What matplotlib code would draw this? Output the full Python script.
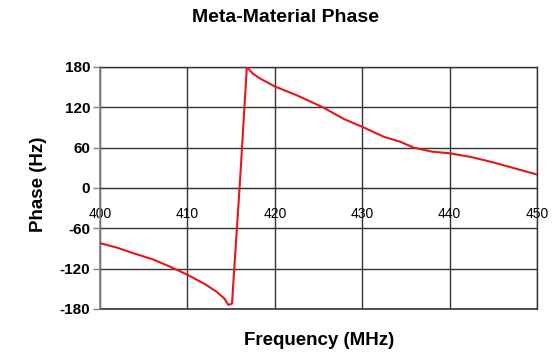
import matplotlib
matplotlib.use("Agg")
import matplotlib.pyplot as plt
import numpy as np

plt.rcParams['font.family'] = ['Liberation Sans', 'DejaVu Sans']

# Phase response of the meta-material sample
freq_mhz = [400, 402, 403.8, 406, 408, 410, 412, 413.3, 414.2, 414.7, 415.1,
            416.0, 416.8, 417.5, 418.3, 420, 422.5, 425.5, 428, 430, 432.5,
            434.3, 435.9, 438, 440, 442.5, 445, 447.5, 450]
phase_deg = [-82, -89, -97, -106, -117, -129, -143, -154, -164, -174, -172,
             7, 180, 170, 163, 151, 138, 120, 102, 91, 76,
             69, 60, 54, 51.6, 46, 38, 29, 20]

x_ticks = [400, 410, 420, 430, 440, 450]
y_ticks = [-180, -120, -60, 0, 60, 120, 180]

fig = plt.figure(figsize=(5.6, 3.52), dpi=100)
ax = fig.add_axes([0.1786, 0.1222, 0.959 - 0.1786, 0.8097 - 0.1222])

ax.plot(freq_mhz, phase_deg, color='#e8141c', lw=1.5, zorder=3)

ax.set_xlim(400, 450)
ax.set_ylim(-180, 180)
ax.set_yticks(y_ticks)
ax.set_yticklabels([str(v) for v in y_ticks], fontsize=11, fontweight='bold')
ax.set_xticks(x_ticks)
ax.set_xticklabels([str(v) for v in x_ticks], fontsize=11, fontweight='bold')

ax.grid(True, color='#333333', lw=1.0)
ax.set_axisbelow(True)

# x axis crosses at zero phase, labels sit just below it
ax.spines['bottom'].set_position(('data', 0))
ax.spines['bottom'].set_color('#333333')
ax.spines['top'].set_visible(False)
ax.spines['right'].set_visible(False)
ax.spines['left'].set_color('#808080')
ax.spines['left'].set_linewidth(1.2)
ax.tick_params(axis='x', length=0, pad=14)
ax.tick_params(axis='y', length=5, color='#808080', width=1, pad=2)
for lbl in ax.get_xticklabels():
    lbl.set_zorder(5)

# frame edges at the limits
ax.axhline(-180, color='#333333', lw=1.2, clip_on=False, zorder=2)
ax.axhline(180, color='#333333', lw=1.0, clip_on=False, zorder=2)
ax.axvline(450, color='#333333', lw=1.0, clip_on=False, zorder=2)

fig.text(0.509, 0.949, 'Meta-Material Phase', ha='center', va='center',
         fontsize=14, fontweight='bold')
fig.text(0.5705, 0.034, 'Frequency (MHz)', ha='center', va='center',
         fontsize=13.5, fontweight='bold')
fig.text(0.069, 0.477, 'Phase (Hz)', ha='center', va='center', rotation=90,
         fontsize=13.5, fontweight='bold')

fig.savefig('out.png', dpi=100)
